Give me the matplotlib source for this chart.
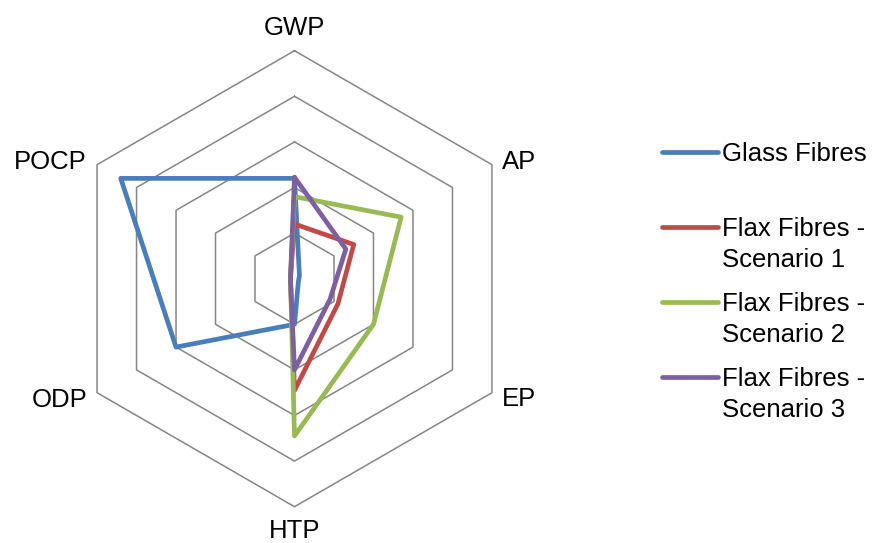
import numpy as np
import matplotlib
matplotlib.use("Agg")
import matplotlib.pyplot as plt

plt.rcParams['font.family'] = ['Liberation Sans', 'DejaVu Sans']

# axes of the radar, clockwise from the top
categories = ['GWP', 'AP', 'EP', 'HTP', 'ODP', 'POCP']
series_names = ['Glass Fibres', 'Flax Fibres -\nScenario 1',
                'Flax Fibres -\nScenario 2', 'Flax Fibres -\nScenario 3']
glass = [44, 2.5, 2, 20, 60, 88]
flax_s1 = [24, 30, 22, 49, 2, 2]
flax_s2 = [36, 54, 40, 69, 2, 2]
flax_s3 = [44.5, 26, 18, 40, 2, 2]
ring_levels = [20, 40, 60, 80, 100]

colors = ['#4A7EBB', '#BE4B48', '#98B954', '#7D60A0']
grid_color = '#868686'

W, H = 874, 543
cx, cy = 294.5, 278.7      # centre of the radar in pixels
R = 228.0                  # outer ring radius in pixels
s = R / 100.0              # pixels per data unit

fig = plt.figure(figsize=(W / 100, H / 100), dpi=100)
ax = fig.add_axes([0, 0, 1, 1])
ax.set_xlim(-cx / s, (W - cx) / s)
ax.set_ylim(-(H - cy) / s, cy / s)
ax.axis('off')

theta = np.pi / 2 - np.arange(len(categories)) * 2 * np.pi / len(categories)


def to_xy(vals):
    vals = np.asarray(vals, dtype=float)
    x = vals * np.cos(theta)
    y = vals * np.sin(theta)
    return np.append(x, x[0]), np.append(y, y[0])


# hexagonal grid rings
for lev in ring_levels:
    x, y = to_xy([lev] * len(categories))
    ax.plot(x, y, color=grid_color, lw=1.1, zorder=1)

# data series
for vals, c in zip([glass, flax_s1, flax_s2, flax_s3], colors):
    x, y = to_xy(vals)
    ax.plot(x, y, color=c, lw=3.4, solid_joinstyle='round',
            solid_capstyle='round', zorder=3)

# category labels (offsets in pixels from the outer vertex, baseline aligned)
offsets = {'GWP': (0, 15.7, 'center'), 'AP': (10, -4.3, 'left'),
           'EP': (10, -13.8, 'left'), 'HTP': (0, -31.5, 'center'),
           'ODP': (-10, -13.8, 'right'), 'POCP': (-10, -4.3, 'right')}
vx, vy = to_xy([100] * len(categories))
for i, cat in enumerate(categories):
    dx, dy, ha = offsets[cat]
    ax.annotate(cat, (vx[i], vy[i]), xytext=(dx, dy),
                textcoords='offset pixels', ha=ha, va='baseline',
                fontsize=18.5, color='black')

# legend drawn by hand to mimic the Excel layout
leg_y0, leg_step = 151.7, 75.0
for i, (name, c) in enumerate(zip(series_names, colors)):
    ly = leg_y0 + i * leg_step
    fig.add_artist(plt.Line2D([662 / W, 718 / W], [1 - ly / H, 1 - ly / H],
                              transform=fig.transFigure, color=c, lw=3.4,
                              solid_capstyle='round'))
    for j, line in enumerate(name.split('\n')):
        by = ly + 9.5 + j * 30.5
        fig.text(722 / W, 1 - by / H, line, ha='left', va='baseline',
                 fontsize=18.5, color='black')

fig.savefig('out.png', dpi=100, facecolor='white')
